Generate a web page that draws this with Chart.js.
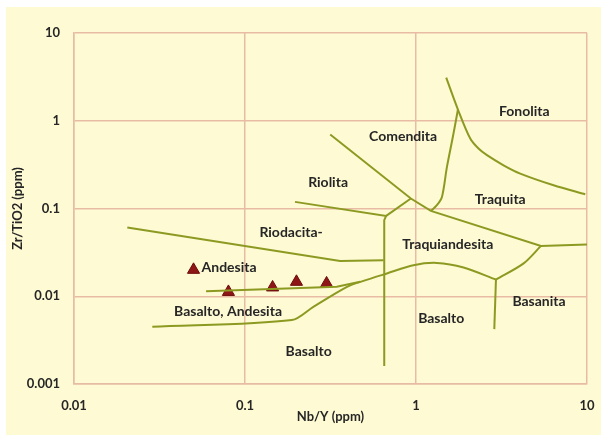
<!DOCTYPE html>
<html>
<head>
<meta charset="utf-8">
<style>
  html, body { margin: 0; padding: 0; background: #fff; }
  #wrap { position: relative; width: 601px; height: 439px; }
</style>
<script src="https://cdn.jsdelivr.net/npm/chart.js@4/dist/chart.umd.min.js"></script>
</head>
<body>
<div id="wrap"><canvas id="chart" width="601" height="439"></canvas></div>
<script>
/* Zr/TiO2 vs Nb/Y classification diagram (log-log) with sample triangles. */

const xTicks = [0.01, 0.1, 1, 10];
const yTicks = [0.001, 0.01, 0.1, 1, 10];

// samples
const sampleNbY = [0.05, 0.08, 0.145, 0.2, 0.3];
const sampleZrTi = [0.02, 0.0112, 0.0126, 0.0146, 0.014];

// field boundaries, [Nb/Y, Zr/TiO2]
const riodacitaUpper = [[0.0205, 0.0608], [0.36, 0.0253], [0.646, 0.0258]];
const centralDivide = [[0.669, 0.0824], [0.652, 0.0736], [0.652, 0.0016]];
const riolitaLower = [[0.196, 0.119], [0.669, 0.0824], [0.933, 0.130]];
const comenditaLower = [[0.315, 0.696], [0.933, 0.130], [1.222, 0.094], [5.38, 0.0375], [10, 0.0389]];
const traquitaLeft = [[1.222, 0.094], [1.325, 0.109], [1.418, 0.1355], [1.517, 0.298], [1.657, 0.715], [1.759, 1.342]];
const fonolitaLower = [[1.502, 3.10], [1.759, 1.342], [2.076, 0.627], [2.32, 0.482], [2.60, 0.405],
  [3.25, 0.311], [4.07, 0.250], [6.38, 0.184], [9.77, 0.1455]];
const andesitaLower = [[0.0592, 0.01143], [0.344, 0.0128], [0.4717, 0.0146]];
const basaltoUpper = [[0.0287, 0.00448], [0.188, 0.00535], [0.251, 0.00757], [0.395, 0.0128], [0.493, 0.01497],
  [0.676, 0.0182], [0.966, 0.0226], [1.325, 0.024], [1.897, 0.0213], [2.935, 0.0155]];
const basanitaUpper = [[2.935, 0.0155], [4.26, 0.0237], [5.38, 0.0375]];
const basanitaLeft = [[2.935, 0.0155], [2.87, 0.00422]];

const boundaries = [riodacitaUpper, centralDivide, riolitaLower, comenditaLower, traquitaLeft,
  fonolitaLower, andesitaLower, basaltoUpper, basanitaUpper, basanitaLeft];
// the curved ones get a little spline smoothing
const curved = [traquitaLeft, fonolitaLower, basaltoUpper, basanitaUpper];

// field names and where they sit
const fieldNames = ['Fonolita', 'Comendita', 'Riolita', 'Traquita', 'Riodacita-', 'Andesita',
  'Basalto, Andesita', 'Basalto', 'Traquiandesita', 'Basalto', 'Basanita'];
const fieldNbY = [4.30, 0.841, 0.306, 3.11, 0.186, 0.0807, 0.0796, 0.2355, 1.533, 1.404, 5.24];
const fieldZrTi = [1.28, 0.666, 0.1995, 0.1276, 0.0537, 0.0214, 0.00676, 0.00237, 0.0392, 0.00563, 0.00879];

const LINE = '#8c9a22';
const GRID = '#e8bba4';
const TEXT = '#262626';
const FONT = 'Lato, "DejaVu Sans", sans-serif';

const lineSets = boundaries.map((pts) => ({
  data: pts.map(([x, y]) => ({ x, y })),
  showLine: true,
  borderColor: LINE,
  borderWidth: 2,
  pointRadius: 0,
  tension: curved.includes(pts) ? 0.3 : 0,
  fill: false,
}));

const sampleSet = {
  data: sampleNbY.map((x, i) => ({ x, y: sampleZrTi[i] })),
  pointStyle: 'triangle',
  pointRadius: 7,
  backgroundColor: '#8e1616',
  borderColor: '#6e0c0c',
  borderWidth: 1,
  showLine: false,
};

const paperBg = {
  id: 'paperBg',
  beforeDraw(chart) {
    const { ctx } = chart;
    ctx.save();
    ctx.fillStyle = '#ffffff';
    ctx.fillRect(0, 0, chart.width, chart.height);
    ctx.fillStyle = '#fefad3';
    ctx.fillRect(6, 7, chart.width - 6, 428);
    ctx.restore();
  },
};

const fieldLabels = {
  id: 'fieldLabels',
  afterDatasetsDraw(chart) {
    const { ctx, scales: { x, y } } = chart;
    ctx.save();
    ctx.font = 'bold 14px ' + FONT;
    ctx.fillStyle = TEXT;
    ctx.textAlign = 'center';
    ctx.textBaseline = 'middle';
    fieldNames.forEach((name, i) => {
      ctx.fillText(name, x.getPixelForValue(fieldNbY[i]), y.getPixelForValue(fieldZrTi[i]));
    });
    ctx.restore();
  },
};

function logAxis(ticks, title, titlePad) {
  return {
    type: 'logarithmic',
    min: ticks[0],
    max: ticks[ticks.length - 1],
    afterBuildTicks: (s) => { s.ticks = ticks.map((v) => ({ value: v })); },
    ticks: {
      callback: (v) => String(v),
      color: TEXT,
      font: { family: FONT, size: 13, weight: 'bold' },
      autoSkip: false,
      maxRotation: 0,
    },
    grid: { color: GRID, lineWidth: 1.5, drawTicks: false },
    border: { color: GRID, width: 1.5 },
    title: {
      display: true,
      text: title,
      color: TEXT,
      font: { family: FONT, size: 13, weight: 'bold' },
      padding: titlePad,
    },
  };
}

// fixed axis boxes so the plot frame lands at 74..587 x 33..384
const xAxis = logAxis(xTicks, 'Nb/Y (ppm)', { top: 0, bottom: 14 });
xAxis.ticks.padding = 14;
xAxis.afterFit = (s) => { s.height = 55; s.paddingLeft = 0; s.paddingRight = 0; };

const yAxis = logAxis(yTicks, 'Zr/TiO2 (ppm)', { top: 10, bottom: 0 });
yAxis.ticks.padding = 14;
yAxis.afterFit = (s) => { s.width = 74; s.paddingTop = 0; s.paddingBottom = 0; };

new Chart(document.getElementById('chart'), {
  type: 'scatter',
  data: { datasets: [...lineSets, sampleSet] },
  options: {
    responsive: false,
    animation: false,
    layout: { padding: { top: 33, right: 14, left: 0, bottom: 0 } },
    plugins: { legend: { display: false }, tooltip: { enabled: false } },
    scales: { x: xAxis, y: yAxis },
  },
  plugins: [paperBg, fieldLabels],
});
</script>
</body>
</html>
